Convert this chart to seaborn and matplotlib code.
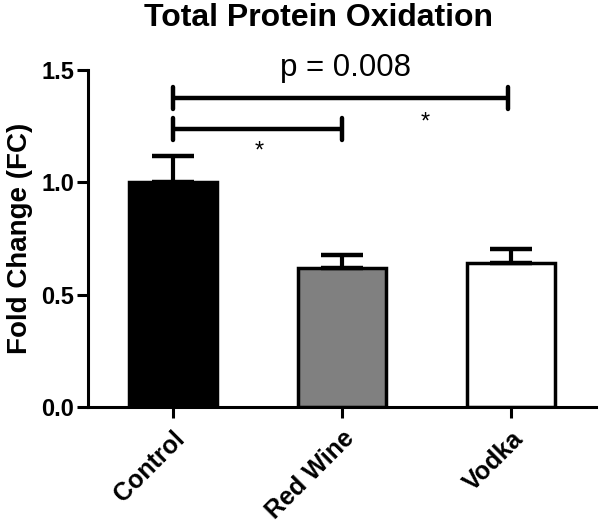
import matplotlib
matplotlib.use("Agg")
import matplotlib.pyplot as plt
import seaborn as sns
import pandas as pd
import numpy as np

categories = ["Control", "Red Wine", "Vodka"]
means = [1.0, 0.62, 0.64]
sems = [0.117, 0.056, 0.063]
bar_colors = ["#000000", "#808080", "#ffffff"]
yticks = [0.0, 0.5, 1.0, 1.5]
title = "Total Protein Oxidation"
ylabel = "Fold Change (FC)"
p_text = "p = 0.008"

sns.set_style("ticks")
plt.rcParams["font.family"] = ["Liberation Sans", "DejaVu Sans"]
plt.rcParams["text.color"] = "black"
plt.rcParams["axes.labelcolor"] = "black"
plt.rcParams["xtick.color"] = "black"
plt.rcParams["ytick.color"] = "black"

fig = plt.figure(figsize=(6.02, 5.29), dpi=100)
ax = fig.add_axes([0.146, 0.2306, 0.844, 0.6371])

df = pd.DataFrame({"group": categories, "value": means})
sns.barplot(data=df, x="group", y="value", hue="group", palette=bar_colors,
            width=0.52, edgecolor="black", linewidth=2.5, errorbar=None,
            legend=False, ax=ax, saturation=1)

ax.errorbar(x=np.arange(len(categories)), y=means,
            yerr=[np.zeros(len(sems)), sems], fmt="none", ecolor="black",
            elinewidth=3, capsize=15, capthick=3.2, zorder=1)

ax.set_xlim(-0.5, 2.5)
ax.set_ylim(0, 1.5)
ax.set_yticks(yticks)
ax.set_yticklabels([f"{v:.1f}" for v in yticks], fontsize=17, fontweight="bold")
ax.set_xticks(range(len(categories)))
ax.set_xticklabels(categories, fontsize=18, fontweight="bold", rotation=45,
                   ha="right", va="top", rotation_mode="anchor")
ax.tick_params(axis="both", direction="out", length=8, width=2.2, colors="black")
ax.tick_params(axis="x", pad=6)
ax.tick_params(axis="y", pad=2)

for s in ["top", "right"]:
    ax.spines[s].set_visible(False)
for s in ["left", "bottom"]:
    ax.spines[s].set_linewidth(2.2)
    ax.spines[s].set_color("black")

ax.set_xlabel("")
ax.set_ylabel(ylabel, fontsize=20, fontweight="bold", labelpad=6)
fig.text(0.529, 0.966, title, fontsize=23, fontweight="bold",
         ha="center", va="center")

# significance brackets
def bracket(x0, x1, y, h=0.05):
    ax.plot([x0, x1], [y, y], color="black", lw=3.2, solid_capstyle="butt", clip_on=False)
    for xx in (x0, x1):
        ax.plot([xx, xx], [y - h, y + h], color="black", lw=3.2,
                solid_capstyle="round", clip_on=False)

bracket(0, 1, 1.237)
bracket(0, 1.98, 1.375)
ax.text(0.51, 1.135, "*", fontsize=17, ha="center", va="center")
ax.text(1.49, 1.265, "*", fontsize=17, ha="center", va="center")
ax.text(1.02, 1.51, p_text, fontsize=22.5, ha="center", va="center", clip_on=False)

fig.savefig("out.png", dpi=100)
